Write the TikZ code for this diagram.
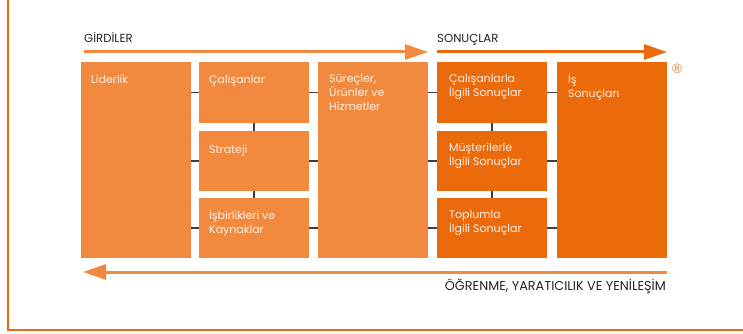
\documentclass[tikz,border=0pt]{standalone}
\usepackage{fontspec}
\setmainfont{Poppins}
\newfontfamily\markfont{DejaVu Sans}
\usetikzlibrary{arrows.meta,positioning}
\definecolor{girdiorange}{RGB}{241,138,62}
\definecolor{sonucorange}{RGB}{235,106,12}
\definecolor{linkgray}{RGB}{64,64,64}
\definecolor{boxwhite}{RGB}{255,242,232}
\definecolor{headgray}{RGB}{35,35,35}

\begin{document}
\begin{tikzpicture}[x=1pt,y=-1pt,
	box/.style={minimum width=\colw pt, inner sep=0pt, outer sep=0pt, anchor=north west},
	inbox/.style={box, fill=girdiorange},
	outbox/.style={box, fill=sonucorange},
	boxlabel/.style={anchor=north west, inner sep=0pt, align=left, text=boxwhite,
		font=\fontsize{11}{14}\selectfont, execute at begin node=\strut},
	headlabel/.style={anchor=base west, inner sep=0pt, text=headgray, font=\fontsize{11.7}{13}\selectfont},
	link/.style={draw=linkgray, line width=1.2pt},
	flow/.style={line width=3pt, -{Triangle[length=23pt,width=15pt]}}
	]
	
	% Parameters
	\def\colw{110}
	\def\tallh{196}
	\def\smallh{60}
	\useasboundingbox (0,0) rectangle (743,334);
	
	% frame
	\draw[sonucorange, line width=2pt] (8,0) -- (8,330) -- (743,330);
	
	% enabler boxes
	\node[inbox, minimum height=\tallh pt] (lid) at (81,62) {};
	\node[inbox, minimum height=61pt] (cal) at (199,62) {};
	\node[inbox, minimum height=\smallh pt] (str) at (199,131) {};
	\node[inbox, minimum height=\smallh pt] (isb) at (199,198) {};
	\node[inbox, minimum height=\tallh pt] (sur) at (318,62) {};
	
	% result boxes
	\node[outbox, minimum height=61pt] (calson) at (437,62) {};
	\node[outbox, minimum height=\smallh pt] (mus) at (437,131) {};
	\node[outbox, minimum height=\smallh pt] (top) at (437,198) {};
	\node[outbox, minimum height=\tallh pt] (is) at (557,62) {};
	
	% box texts
	\node[boxlabel] (lidT) at ([shift={(10,12)}]lid.north west) {Liderlik};
	\node[boxlabel] (calT) at ([shift={(10,12)}]cal.north west) {Çalışanlar};
	\node[boxlabel] (strT) at ([shift={(10,12)}]str.north west) {Strateji};
	\node[boxlabel] (isbT) at ([shift={(10,12)}]isb.north west) {İşbirlikleri ve\\Kaynaklar};
	\node[boxlabel] (surT) at ([shift={(11,12)}]sur.north west) {Süreçler,\\Ürünler ve\\Hizmetler};
	\node[boxlabel] (calsonT) at ([shift={(12,12)}]calson.north west) {Çalışanlarla\\İlgili Sonuçlar};
	\node[boxlabel] (musT) at ([shift={(12,12)}]mus.north west) {Müşterilerle\\İlgili Sonuçlar};
	\node[boxlabel] (topT) at ([shift={(12,12)}]top.north west) {Toplumla\\İlgili Sonuçlar};
	\node[boxlabel] (isT) at ([shift={(11,12)}]is.north west) {İş\\Sonuçları};
	
	% links tall -> small
	\foreach \a/\b in {lid/cal, lid/str, lid/isb, sur/calson, sur/mus, sur/top} {
		\draw[link] (\a.east |- \b.west) -- (\b.west);
	}
	% links small -> tall
	\foreach \a/\b in {cal/sur, str/sur, isb/sur, calson/is, mus/is, top/is} {
		\draw[link] (\a.east) -- (\b.west |- \a.east);
	}
	% links down the columns
	\foreach \a/\b in {cal/str, str/isb, calson/mus, mus/top} {
		\draw[link] (\a.south) -- (\b.north);
	}
	
	% headings and flow arrows
	\node[headlabel] (girdi) at (84,43) {GİRDİLER};
	\node[headlabel] (sonuc) at (437,43) {SONUÇLAR};
	\coordinate (girdiS) at (84,52);
	\coordinate (girdiE) at ([yshift=10pt]sur.north east);
	\coordinate (sonucS) at ([yshift=10pt]calson.north west);
	\coordinate (sonucE) at ([yshift=10pt]is.north east);
	\draw[flow, girdiorange] (girdiS) -- (girdiE);
	\draw[flow, sonucorange] (sonucS) -- (sonucE);
	
	% learning arrow
	\coordinate (ogrS) at ([yshift=-14pt]is.south east);
	\coordinate (ogrE) at (83,272);
	\draw[flow, girdiorange] (ogrS) -- (ogrE);
	\node[headlabel, anchor=base east, font=\fontsize{12.8}{14}\selectfont] (ogr) at (666,290) {ÖĞRENME, YARATICILIK VE YENİLEŞİM};
	
	% registered mark
	\node[text=girdiorange, inner sep=0pt, font=\markfont\fontsize{13}{13}\selectfont] (reg) at (677,69) {®};
	
\end{tikzpicture}
\end{document}
